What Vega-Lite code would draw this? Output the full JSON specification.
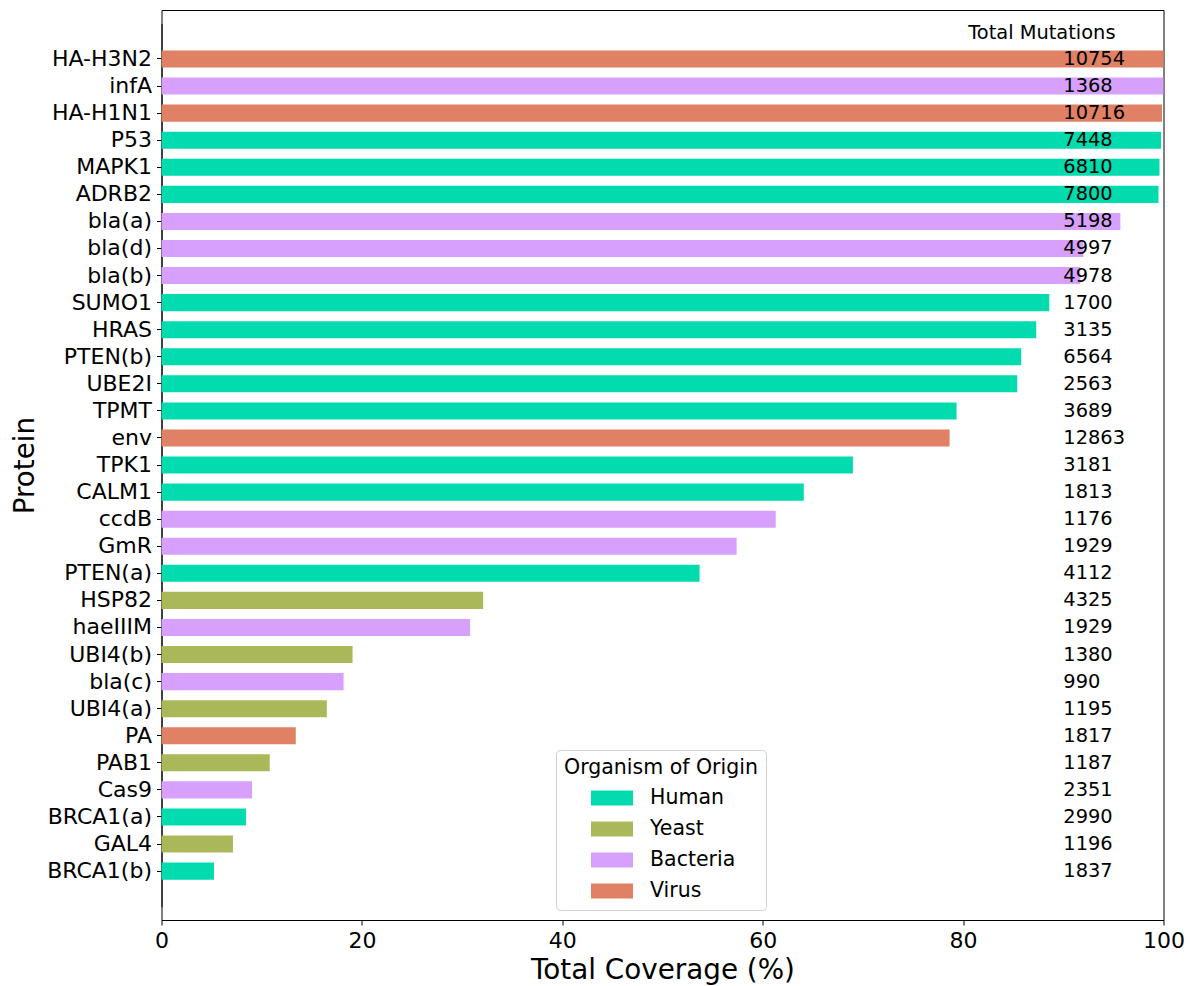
{
  "$schema": "https://vega.github.io/schema/vega-lite/v6.json",
  "width": 1002,
  "height": 910,
  "autosize": {"type": "none"},
  "padding": {"left": 161.5, "top": 10, "right": 29, "bottom": 66},
  "background": "white",
  "title": {
    "text": "Total Mutations",
    "anchor": "end",
    "frame": "group",
    "orient": "top",
    "dx": -48,
    "offset": -48,
    "baseline": "alphabetic",
    "font": "DejaVu Sans",
    "fontSize": 19.4,
    "fontWeight": "normal",
    "color": "black"
  },
  "data": {
    "values": [
      {"protein": "HA-H3N2", "coverage": 100, "organism": "Virus", "mutations": 10754},
      {"protein": "infA", "coverage": 99.98, "organism": "Bacteria", "mutations": 1368},
      {"protein": "HA-H1N1", "coverage": 99.85, "organism": "Virus", "mutations": 10716},
      {"protein": "P53", "coverage": 99.75, "organism": "Human", "mutations": 7448},
      {"protein": "MAPK1", "coverage": 99.6, "organism": "Human", "mutations": 6810},
      {"protein": "ADRB2", "coverage": 99.5, "organism": "Human", "mutations": 7800},
      {"protein": "bla(a)", "coverage": 95.7, "organism": "Bacteria", "mutations": 5198},
      {"protein": "bla(d)", "coverage": 92.0, "organism": "Bacteria", "mutations": 4997},
      {"protein": "bla(b)", "coverage": 91.7, "organism": "Bacteria", "mutations": 4978},
      {"protein": "SUMO1", "coverage": 88.6, "organism": "Human", "mutations": 1700},
      {"protein": "HRAS", "coverage": 87.3, "organism": "Human", "mutations": 3135},
      {"protein": "PTEN(b)", "coverage": 85.8, "organism": "Human", "mutations": 6564},
      {"protein": "UBE2I", "coverage": 85.4, "organism": "Human", "mutations": 2563},
      {"protein": "TPMT", "coverage": 79.35, "organism": "Human", "mutations": 3689},
      {"protein": "env", "coverage": 78.65, "organism": "Virus", "mutations": 12863},
      {"protein": "TPK1", "coverage": 69.0, "organism": "Human", "mutations": 3181},
      {"protein": "CALM1", "coverage": 64.1, "organism": "Human", "mutations": 1813},
      {"protein": "ccdB", "coverage": 61.3, "organism": "Bacteria", "mutations": 1176},
      {"protein": "GmR", "coverage": 57.4, "organism": "Bacteria", "mutations": 1929},
      {"protein": "PTEN(a)", "coverage": 53.7, "organism": "Human", "mutations": 4112},
      {"protein": "HSP82", "coverage": 32.1, "organism": "Yeast", "mutations": 4325},
      {"protein": "haeIIIM", "coverage": 30.8, "organism": "Bacteria", "mutations": 1929},
      {"protein": "UBI4(b)", "coverage": 19.07, "organism": "Yeast", "mutations": 1380},
      {"protein": "bla(c)", "coverage": 18.17, "organism": "Bacteria", "mutations": 990},
      {"protein": "UBI4(a)", "coverage": 16.5, "organism": "Yeast", "mutations": 1195},
      {"protein": "PA", "coverage": 13.4, "organism": "Virus", "mutations": 1817},
      {"protein": "PAB1", "coverage": 10.8, "organism": "Yeast", "mutations": 1187},
      {"protein": "Cas9", "coverage": 9.03, "organism": "Bacteria", "mutations": 2351},
      {"protein": "BRCA1(a)", "coverage": 8.43, "organism": "Human", "mutations": 2990},
      {"protein": "GAL4", "coverage": 7.13, "organism": "Yeast", "mutations": 1196},
      {"protein": "BRCA1(b)", "coverage": 5.24, "organism": "Human", "mutations": 1837}
    ]
  },
  "encoding": {
    "y": {
      "field": "protein",
      "type": "nominal",
      "sort": null,
      "scale": {"paddingInner": 0.37, "paddingOuter": 1, "range": [13.4, 896.7]},
      "axis": {
        "title": "Protein",
        "titlePadding": 7
      }
    }
  },
  "layer": [
    {
      "mark": {"type": "bar"},
      "encoding": {
        "x": {
          "field": "coverage",
          "type": "quantitative",
          "scale": {"domain": [0, 100], "nice": false, "zero": true},
          "axis": {
            "title": "Total Coverage (%)",
            "values": [0, 20, 40, 60, 80, 100],
            "format": "d",
            "labelFlush": false,
            "titlePadding": 5
          }
        },
        "color": {
          "field": "organism",
          "type": "nominal",
          "scale": {
            "domain": ["Human", "Yeast", "Bacteria", "Virus"],
            "range": ["#02dbae", "#aab85a", "#d6a0fc", "#e08064"]
          },
          "legend": {
            "title": "Organism of Origin",
            "orient": "none",
            "legendX": 394.5,
            "legendY": 740,
            "padding": 8,
            "fillColor": "white",
            "strokeColor": "#d0d0d0",
            "cornerRadius": 4,
            "titleAnchor": "middle",
            "titleLimit": 500,
            "titleFont": "DejaVu Sans",
            "titleFontSize": 20.5,
            "titleFontWeight": "normal",
            "titleColor": "black",
            "titlePadding": 9,
            "labelFont": "DejaVu Sans",
            "labelFontSize": 20.5,
            "labelColor": "black",
            "symbolType": "M-2,-0.714L2,-0.714L2,0.714L-2,0.714Z",
            "symbolSize": 441,
            "symbolStrokeWidth": 0,
            "symbolOpacity": 1,
            "symbolOffset": 15.5,
            "labelOffset": 27.5,
            "rowPadding": 10
          }
        }
      }
    },
    {
      "mark": {
        "type": "text",
        "align": "left",
        "baseline": "middle",
        "font": "DejaVu Sans",
        "fontSize": 19.4,
        "color": "black"
      },
      "encoding": {
        "x": {"datum": 90},
        "text": {"field": "mutations", "type": "quantitative", "format": "d"}
      }
    }
  ],
  "config": {
    "view": {"stroke": "black", "strokeWidth": 1},
    "axis": {
      "grid": false,
      "labelFont": "DejaVu Sans",
      "labelFontSize": 22,
      "labelColor": "black",
      "labelPadding": 5,
      "tickColor": "black",
      "tickSize": 5,
      "domainColor": "black",
      "titleFont": "DejaVu Sans",
      "titleFontSize": 27.8,
      "titleFontWeight": "normal",
      "titleColor": "black"
    }
  }
}
